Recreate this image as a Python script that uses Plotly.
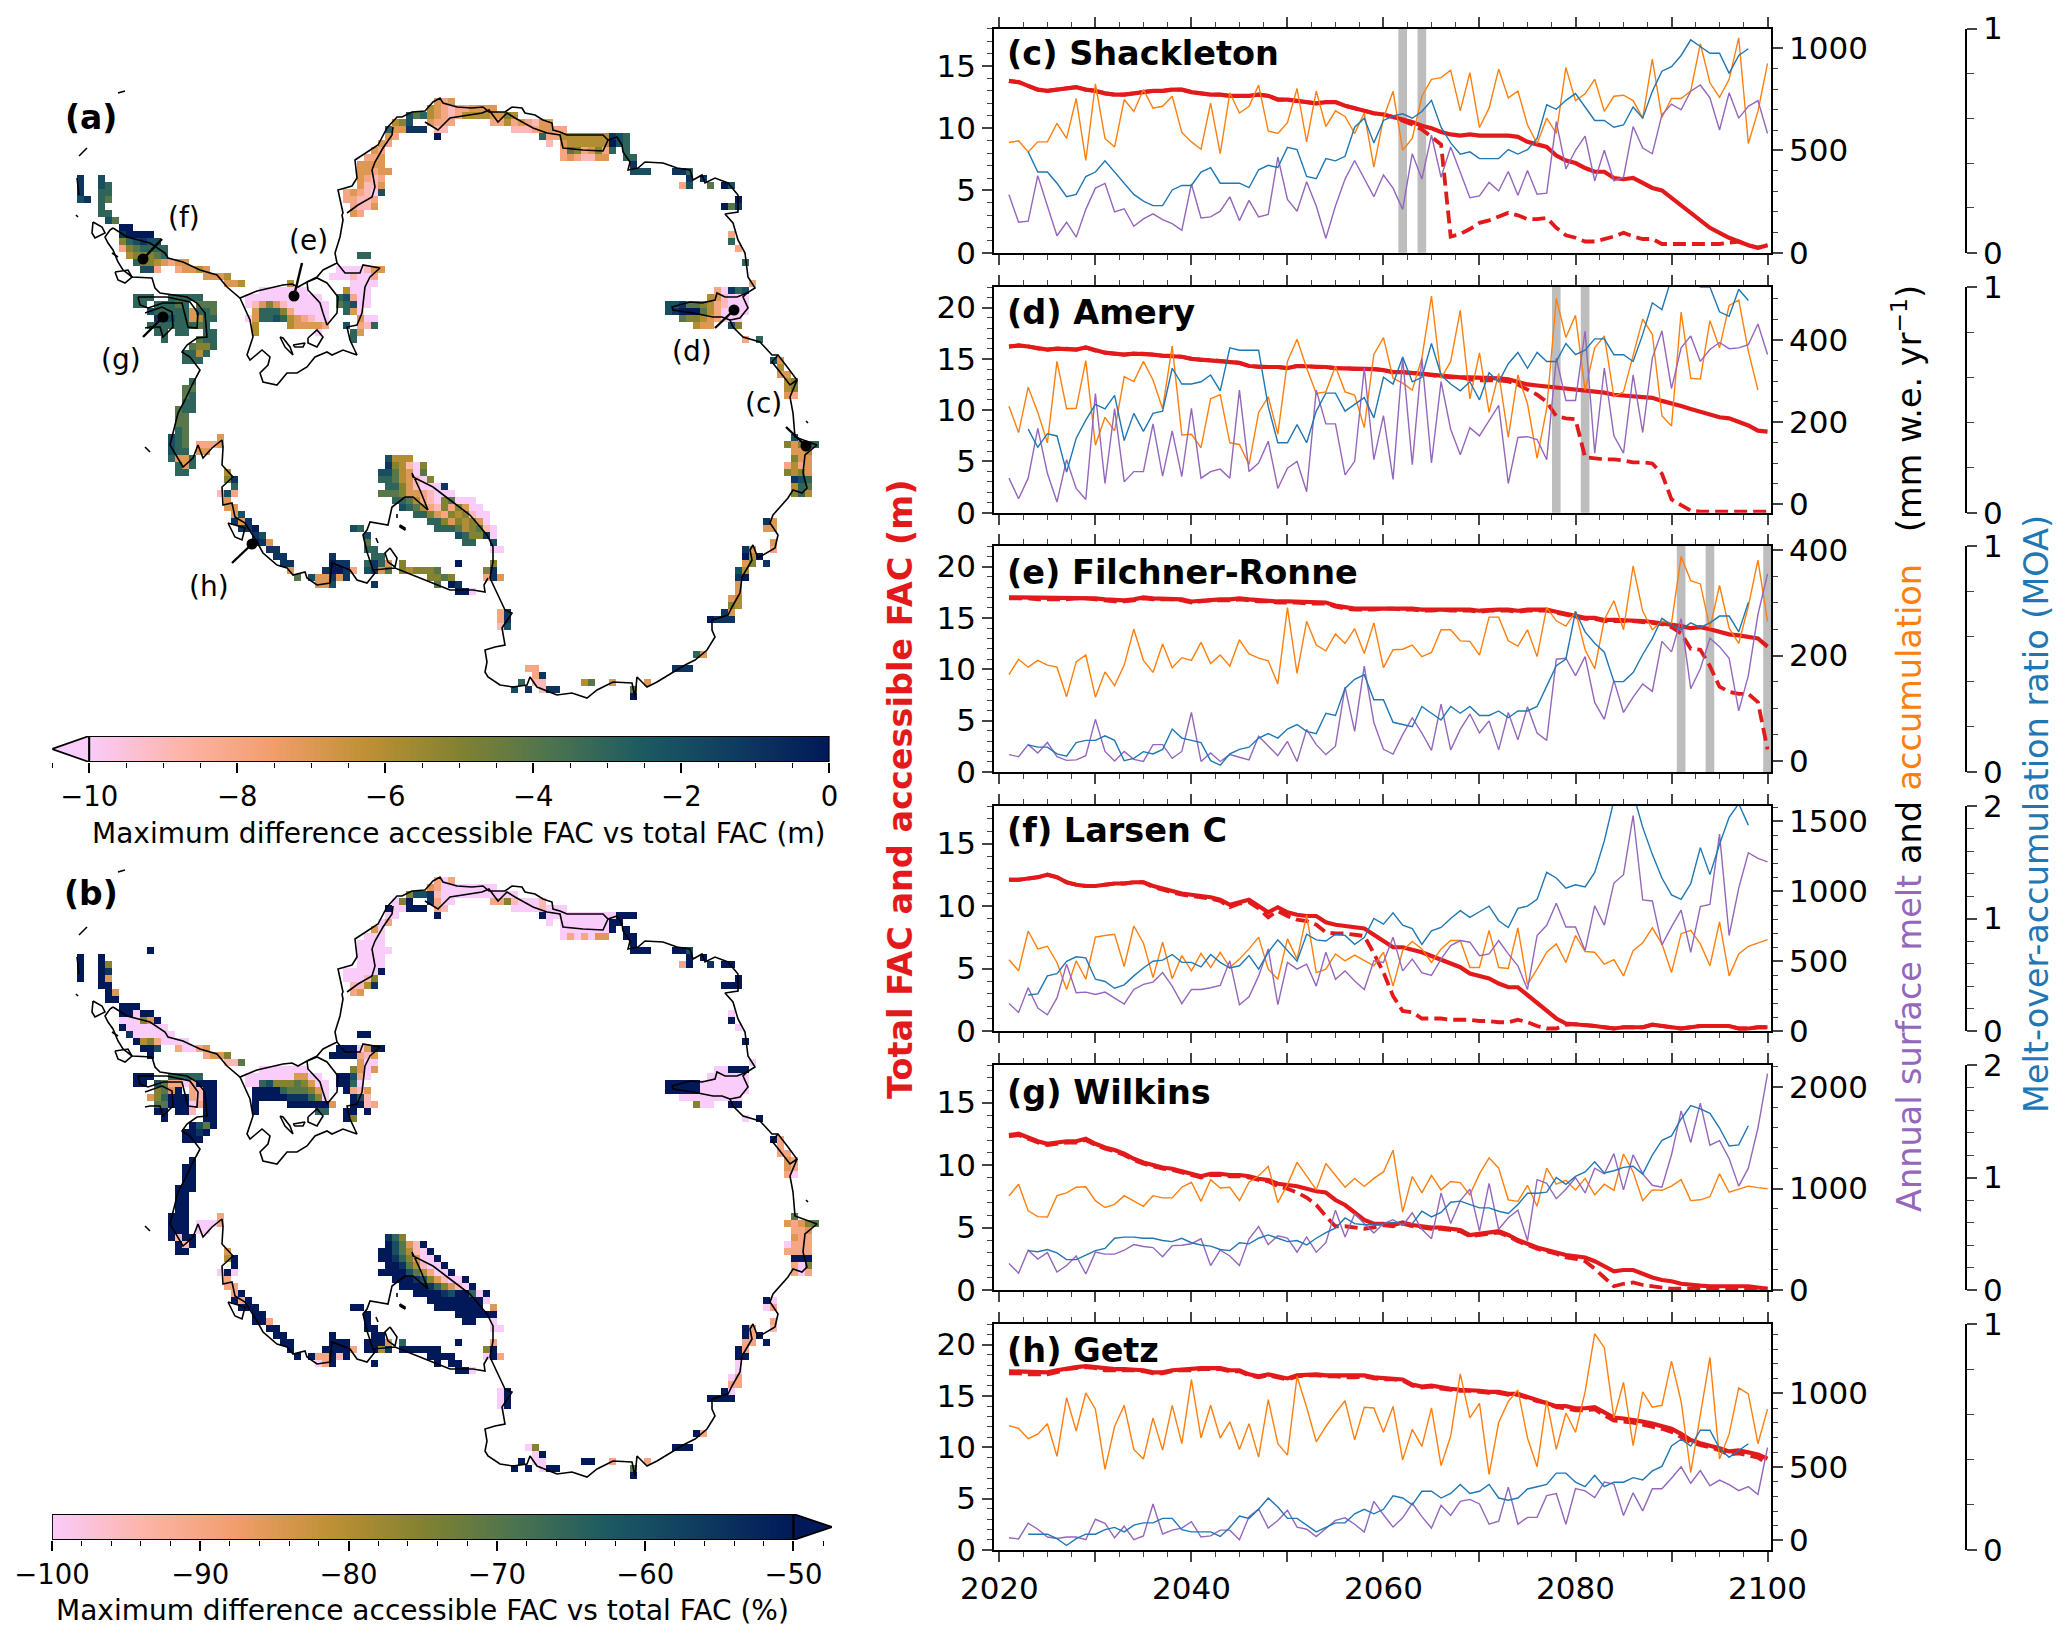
import numpy as np
import plotly.graph_objects as go

# page offset of the plot div (browser default body margin)
PAGE = 8
W, H = 2050, 1625

years = list(range(2021, 2101))
moa_years = list(range(2023, 2099))

RED = "#E31A1C"
PURPLE = "#9467BD"
ORANGE = "#FF7F0E"
BLUE = "#1F77B4"
FONT = "DejaVu Sans"

# ---- Shackleton
c_total = [13.8,13.7,13.4,13.1,13.0,13.1,13.2,13.3,13.1,13.0,
           12.8,12.7,12.7,12.8,12.9,13.0,13.0,13.1,13.1,12.9,
           12.8,12.7,12.7,12.6,12.6,12.6,12.7,12.6,12.3,12.3,
           12.2,12.1,12.0,12.1,12.1,11.8,11.6,11.4,11.2,11.1,
           10.9,10.7,10.5,10.2,10.0,9.7,9.5,9.4,9.5,9.4,
           9.4,9.4,9.4,9.3,8.9,8.7,8.5,7.8,7.4,7.2,
           6.8,6.5,6.5,6.0,5.9,6.0,5.6,5.2,5.0,4.4,
           3.8,3.2,2.7,2.0,1.6,1.2,0.9,0.6,0.4,0.6]
c_access = c_total[:40] + [10.9,10.6,10.3,9.9,9.3,8.7,1.3,1.5,1.9,2.4,
           2.6,2.9,3.2,3.0,2.7,2.7,2.8,2.0,1.4,1.2,
           0.9,0.9,1.1,1.3,1.6,1.3,1.1,1.1,0.7,0.7,
           0.7,0.7,0.7,0.7,0.7,0.8,0.9,0.6,0.4,0.6]
c_accum = [539,547,493,542,542,633,559,754,451,826,
           559,517,749,691,798,707,716,765,588,542,
           506,732,484,782,683,716,820,595,583,636,
           803,542,790,617,694,666,583,683,418,658,
           790,501,559,765,848,856,893,694,881,612,
           707,898,757,790,625,534,658,583,906,744,
           777,848,691,765,770,744,658,947,661,754,
           754,790,1022,831,760,848,1051,534,691,926]
c_melt = [283,149,154,377,228,83,149,76,212,316,
          339,200,215,129,165,190,162,142,109,336,
          170,175,203,273,157,256,175,187,468,261,
          203,347,228,71,228,360,451,360,274,380,
          316,212,484,360,575,369,517,393,269,278,
          344,302,397,281,402,286,291,641,410,501,
          570,352,501,352,369,617,512,484,674,727,
          699,790,820,757,600,782,658,716,744,583]
c_moa = [.45,.36,.36,.31,.25,.26,.34,.36,.41,.36,
         .31,.26,.23,.21,.21,.28,.30,.30,.36,.38,
         .31,.31,.31,.29,.37,.39,.38,.47,.46,.34,
         .33,.42,.41,.43,.56,.60,.49,.59,.61,.62,
         .60,.63,.68,.56,.49,.44,.45,.42,.42,.42,
         .46,.44,.46,.51,.66,.64,.68,.71,.65,.59,
         .59,.56,.57,.65,.60,.72,.81,.83,.88,.95,
         .92,.89,.89,.80,.88,.91]
c_events = [2062, 2064]

# ---- Amery
d_total = [16.2,16.3,16.2,16.0,15.9,16.0,16.0,15.9,16.1,15.8,
           15.6,15.5,15.4,15.5,15.5,15.4,15.3,15.3,15.2,15.0,
           14.9,14.9,14.8,14.7,14.6,14.3,14.2,14.2,14.2,14.1,
           14.3,14.3,14.2,14.2,14.1,14.1,14.0,14.0,14.0,13.9,
           13.7,13.7,13.6,13.6,13.4,13.3,13.2,13.2,13.2,13.2,
           13.2,13.1,13.0,12.7,12.5,12.4,12.3,12.2,12.1,12.1,
           11.9,11.8,11.7,11.5,11.4,11.3,11.2,11.2,10.9,10.7,
           10.4,10.1,9.8,9.5,9.3,9.2,8.9,8.5,8.0,7.9]
d_access = d_total[:48] + [13.0,12.9,12.9,12.9,12.8,12.5,12.0,11.5,10.8,9.4,
           9.2,9.1,5.4,5.3,5.2,5.2,5.1,4.9,4.9,4.8,
           3.8,1.3,0.8,0.2,0.1,0.1,0.1,0.1,0.1,0.1,0.1,0.1]
d_accum = [239,175,285,224,150,348,233,234,350,144,
           212,179,311,299,348,303,233,385,169,171,
           138,257,267,150,146,97,224,262,171,348,
           402,332,270,274,336,274,266,187,365,406,
           307,295,278,356,507,307,348,472,257,369,
           224,319,163,315,245,113,233,501,406,460,
           278,381,410,262,274,365,451,414,216,191,
           468,307,305,447,381,484,497,373,278,None]
d_melt = [64,14,64,185,76,6,109,39,12,270,
          51,233,55,80,80,196,69,179,68,234,
          64,80,86,64,278,80,101,154,39,88,
          105,31,278,196,196,72,105,332,109,216,
          61,356,97,356,101,299,183,121,187,167,
          204,241,51,163,165,158,109,356,253,253,
          422,125,332,167,125,315,175,356,422,282,
          381,410,348,377,394,379,381,389,439,365]
d_moa = [.37,.29,.35,.34,.18,.33,.41,.48,.46,.52,
         .32,.44,.36,.44,.45,.64,.57,.57,.58,.61,
         .54,.73,.72,.72,.72,.47,.31,.31,.39,.31,
         .45,.53,.53,.45,.48,.51,.42,.60,.57,.69,
         .58,.60,.75,.61,.57,.54,.58,.50,.62,.58,
         .66,.71,.64,.71,.67,.67,.75,.70,.72,.77,
         .77,.70,.70,.67,.79,.93,.90,1.04,1.18,1.07,
         1.00,1.00,.89,.87,.99,.94]
d_events = [2078, 2081]

# ---- Filchner-Ronne
e_total = [17.0,17.0,17.0,16.9,16.9,16.9,16.9,17.0,17.0,16.9,
           16.8,16.7,16.7,16.8,17.0,16.9,16.9,16.9,16.8,16.6,
           16.7,16.8,16.8,16.8,16.9,16.8,16.7,16.7,16.6,16.6,
           16.6,16.5,16.5,16.5,16.2,16.0,15.9,15.9,15.9,16.0,
           16.0,15.9,15.9,15.8,15.8,15.9,15.8,15.8,15.8,15.7,
           15.8,15.8,15.8,15.7,15.8,15.8,15.8,15.6,15.4,15.2,
           15.0,15.0,14.8,14.8,14.8,14.8,14.7,14.6,14.5,14.3,
           14.2,14.0,14.1,13.9,13.6,13.4,13.3,13.2,13.0,12.2]
e_access = [16.9,16.9,16.9,16.8,16.8,16.8,16.8,16.9,16.9,16.8,
            16.7,16.6,16.6,16.7,16.9,16.8,16.8,16.8,16.7,16.5,
            16.6,16.7,16.7,16.7,16.8,16.7,16.6,16.6,16.5,16.5,
            16.5,16.4,16.4,16.4,16.1,15.9,15.8,15.8,15.8,15.9,
            15.9,15.8,15.8,15.7,15.7,15.8,15.7,15.7,15.7,15.6,
            15.7,15.7,15.7,15.6,15.7,15.7,15.7,15.5,15.3,15.1,
            14.9,14.9,14.7,14.7,14.7,14.7,14.6,14.5,14.4,14.1,
            13.5,12.0,11.9,10.3,8.3,7.8,7.6,7.6,6.8,2.2]
e_accum = [164,193,178,191,182,178,122,188,201,121,
           169,143,182,250,191,168,222,177,196,191,
           225,185,201,180,230,203,195,190,146,291,
           166,265,220,209,241,223,251,204,262,177,
           211,212,220,198,206,249,249,228,227,201,
           273,273,228,218,249,198,291,266,256,284,
           211,175,268,304,249,370,284,249,265,262,
           388,342,336,252,333,252,223,294,381,265]
e_melt = [12,8,31,15,35,8,1,2,10,79,
          18,0,18,3,-1,31,31,5,18,92,
          -1,15,-1,12,7,2,47,28,10,37,
          -1,60,31,12,28,140,56,180,73,22,
          13,50,82,53,20,108,21,60,89,53,
          76,21,92,40,103,53,39,193,195,162,
          198,111,79,153,92,121,146,132,227,207,
          270,137,175,233,217,195,95,162,278,355]
e_moa = [.12,.11,.11,.08,.07,.13,.14,.14,.16,.14,
         .05,.06,.09,.08,.10,.19,.15,.14,.13,.05,
         .03,.08,.10,.11,.15,.17,.15,.19,.21,.18,
         .17,.26,.25,.37,.41,.43,.32,.32,.22,.21,
         .20,.29,.26,.23,.29,.26,.29,.25,.25,.27,
         .24,.27,.27,.29,.38,.47,.50,.71,.62,.57,
         .53,.40,.40,.44,.52,.59,.68,.65,.63,.66,
         .64,.66,.69,.69,.62,.75]
e_events = [2091, 2094, 2100]

# ---- Larsen C
f_total = [12.1,12.1,12.2,12.3,12.5,12.3,11.9,11.7,11.6,11.6,
           11.7,11.8,11.8,11.9,11.9,11.6,11.4,11.2,11.0,10.9,
           10.8,10.7,10.5,10.1,10.3,10.5,10.0,9.5,9.9,9.5,
           9.3,9.2,9.2,8.7,8.5,8.4,8.3,8.2,7.7,7.2,
           6.7,6.7,6.5,6.3,6.0,5.7,5.4,5.1,4.6,4.4,
           4.2,3.8,3.5,3.5,2.9,2.3,1.7,1.0,.6,.55,
           .5,.4,.3,.2,.3,.3,.3,.5,.4,.3,
           .2,.3,.4,.4,.4,.4,.2,.2,.3,.3]
f_access = [12.1,12.1,12.2,12.3,12.5,12.3,11.9,11.7,11.6,11.6,
            11.7,11.8,11.8,11.9,11.9,11.5,11.3,11.1,10.9,10.8,
            10.7,10.6,10.4,9.9,10.2,10.3,9.8,9.1,9.6,9.2,
            8.9,8.8,8.5,7.9,7.8,7.8,7.7,7.6,6.2,4.7,
            2.8,1.6,1.5,1.0,1.0,1.0,.9,.9,.9,.8,
            .8,.7,.7,.9,.7,.4,.2,.2,.5,.55,
            .5,.4,.3,.2,.3,.3,.3,.5,.4,.3,
            .2,.3,.4,.4,.4,.4,.2,.2,.3,.3]
f_accum = [510,430,715,587,606,490,297,502,370,671,
           683,691,461,751,630,382,635,374,539,430,
           555,454,563,454,514,587,671,442,370,659,
           514,828,418,442,551,502,543,502,466,563,
           321,575,640,587,490,587,647,647,454,454,
           720,454,447,737,333,442,563,623,490,683,
           568,563,478,510,394,575,630,737,623,418,
           696,720,623,466,780,394,551,606,630,654]
f_melt = [196,133,309,164,116,237,478,273,278,261,
          278,237,193,297,333,350,418,321,196,297,
          297,309,326,502,188,244,394,587,188,490,
          442,478,321,563,370,430,357,297,502,490,
          671,430,514,418,398,514,611,647,635,539,
          551,647,551,466,297,683,756,913,744,744,
          575,896,756,1058,1118,1541,937,930,616,744,
          865,563,889,906,1408,683,1022,1275,1234,1210]
f_moa = [.32,.33,.49,.51,.62,.66,.65,.46,.44,.38,
         .41,.49,.56,.62,.63,.68,.61,.61,.57,.68,
         .61,.56,.58,.67,.55,.70,.81,.71,.62,.86,
         .81,.80,.86,.85,.77,.83,1.00,.95,1.05,.94,
         .91,.77,.89,.92,1.00,1.07,1.01,1.06,1.11,.98,
         .92,1.09,1.11,1.17,1.41,1.36,1.27,1.30,1.28,1.41,
         1.69,2.05,2.08,2.11,1.81,1.57,1.36,1.21,1.17,1.31,
         1.63,1.39,1.66,1.90,2.02,1.83]

# ---- Wilkins
g_total = [12.4,12.5,12.2,11.9,11.7,11.8,11.9,11.9,12.1,11.7,
           11.4,11.2,10.9,10.5,10.2,10.0,9.8,9.7,9.5,9.3,
           9.1,9.3,9.3,9.2,9.2,9.1,8.9,8.8,8.5,8.4,
           8.3,8.1,7.9,7.8,7.2,6.8,6.2,5.6,5.3,5.3,
           5.2,5.4,5.2,5.1,5.0,5.0,4.9,4.8,4.4,4.5,
           4.6,4.7,4.4,4.0,3.7,3.4,3.2,3.0,2.8,2.7,
           2.6,2.3,1.9,1.5,1.6,1.6,1.3,1.0,.8,.7,
           .5,.4,.35,.3,.3,.3,.35,.3,.2,.1]
g_access = [12.3,12.4,12.1,11.8,11.6,11.7,11.8,11.8,12.0,11.6,
            11.3,11.1,10.8,10.4,10.1,9.9,9.7,9.6,9.4,9.2,
            9.0,9.2,9.2,9.1,9.1,9.0,8.8,8.7,8.3,8.1,
            7.8,7.4,6.8,5.9,5.1,5.1,5.0,4.9,5.0,5.2,
            5.1,5.3,5.1,5.0,4.9,4.9,4.8,4.7,4.3,4.4,
            4.5,4.6,4.3,3.9,3.6,3.3,3.1,2.9,2.6,2.5,
            2.3,1.7,1.0,.3,.5,.6,.4,.3,.2,.1,
            .1,.1,.1,.1,.1,.1,.1,.1,.1,.1]
g_accum = [926,1043,780,723,719,930,957,1013,1017,881,
           813,844,930,881,825,930,908,908,1013,1062,
           874,1088,1006,1013,881,1062,1126,1220,862,1039,
           1258,1126,987,1247,1134,1013,1100,1021,1100,1164,
           1378,768,1119,957,1130,987,1070,1058,938,1145,
           1303,1201,889,874,1032,825,1201,1043,1081,987,
           1100,938,1043,983,1341,1164,881,987,983,1024,
           1088,881,889,919,1145,964,994,1024,1009,998]
g_melt = [260,166,392,305,369,177,241,335,158,373,
          354,354,392,448,429,418,328,437,441,456,
          505,241,392,335,241,505,625,448,535,512,
          373,523,373,467,787,523,749,655,561,655,
          693,636,761,599,505,957,655,881,994,580,
          1051,599,712,787,486,1088,1051,900,994,1107,
          957,1201,1145,1344,987,1333,1145,1032,1013,1333,
          1766,1454,1842,1427,1473,1296,1024,1201,1597,2132]
g_moa = [.35,.34,.36,.33,.27,.27,.31,.35,.37,.46,
         .47,.47,.46,.46,.44,.43,.46,.42,.40,.39,
         .36,.35,.42,.41,.46,.49,.46,.43,.44,.40,
         .46,.51,.55,.64,.59,.58,.58,.59,.60,.59,
         .59,.70,.65,.69,.78,.79,.76,.73,.73,.70,
         .68,.76,.86,.86,.87,1.00,.94,1.01,1.05,1.14,
         1.04,1.06,1.09,1.10,1.03,1.20,1.33,1.37,1.52,1.64,
         1.61,1.57,1.44,1.28,1.29,1.46]

# ---- Getz
h_total = [17.4,17.4,17.3,17.3,17.3,17.5,17.7,17.8,17.9,17.8,
           17.6,17.6,17.6,17.6,17.5,17.3,17.3,17.5,17.6,17.6,
           17.7,17.7,17.7,17.5,17.5,17.1,16.9,17.1,16.9,16.7,
           17.0,17.1,17.1,17.0,17.0,16.9,16.9,17.0,16.8,16.7,
           16.7,16.6,16.1,15.9,16.0,15.8,15.7,15.6,15.6,15.5,
           15.4,15.4,15.2,15.2,14.9,14.6,14.4,14.0,14.0,13.8,
           13.8,13.9,13.4,12.9,12.8,12.7,12.5,12.3,12.1,11.8,
           11.3,10.7,10.4,10.2,9.9,9.6,9.7,9.5,9.3,8.9]
h_access = [17.2,17.2,17.1,17.1,17.1,17.3,17.6,17.7,17.8,17.7,
            17.5,17.5,17.5,17.5,17.4,17.2,17.2,17.4,17.5,17.5,
            17.6,17.6,17.6,17.4,17.4,17.0,16.8,17.0,16.8,16.6,
            16.9,17.0,17.0,16.9,16.9,16.8,16.8,16.9,16.7,16.6,
            16.6,16.5,16.0,15.8,15.9,15.7,15.6,15.5,15.5,15.4,
            15.3,15.3,15.1,15.1,14.8,14.5,14.3,13.9,13.8,13.6,
            13.6,13.7,13.1,12.6,12.5,12.4,12.2,12.0,11.8,11.5,
            11.0,10.5,10.2,10.0,9.7,9.3,9.4,9.2,9.0,8.4]
h_accum = [781,762,692,723,794,572,971,744,1003,893,
           483,775,919,619,554,833,614,919,658,1094,
           697,919,697,807,619,794,567,958,658,580,
           1115,906,671,775,867,950,684,906,901,736,
           911,548,755,640,901,509,710,1133,833,932,
           449,802,945,1024,697,501,953,619,867,736,
           1010,1407,1311,833,1076,645,1010,906,919,1219,
           945,462,854,1245,554,723,1037,997,658,893]
h_melt = [18,10,117,76,23,13,23,23,5,144,
          117,18,97,5,31,248,44,70,84,128,
          23,31,70,70,5,162,214,84,136,206,
          91,76,26,84,136,154,110,57,266,175,
          91,154,253,162,84,240,170,266,279,248,
          110,131,363,110,157,157,305,319,110,352,
          337,292,397,384,170,324,201,352,352,423,
          501,389,475,371,410,379,339,366,313,632]
h_moa = [.07,.07,.07,.05,.02,.05,.07,.07,.09,.10,
         .08,.11,.12,.12,.14,.14,.09,.08,.08,.08,
         .06,.10,.15,.14,.18,.23,.19,.14,.14,.11,
         .08,.10,.12,.12,.16,.18,.16,.18,.24,.23,
         .20,.26,.26,.23,.25,.29,.25,.26,.29,.23,
         .22,.23,.27,.28,.29,.34,.34,.30,.28,.33,
         .28,.30,.30,.32,.31,.35,.37,.46,.49,.46,
         .53,.53,.45,.41,.44,.47]

panels = [
    dict(title="(c) Shackleton", total=c_total, access=c_access, accum=c_accum, melt=c_melt, moa=c_moa,
         events=c_events, top=28.6, bottom=252.7, left_max=18, right=[0, 1096], rmajor=500, rminor=100, moa_max=1, title_y=54),
    dict(title="(d) Amery", total=d_total, access=d_access, accum=d_accum, melt=d_melt, moa=d_moa,
         events=d_events, top=287, bottom=512.7, left_max=22, right=[-20, 529], rmajor=200, rminor=50, moa_max=1, title_y=312),
    dict(title="(e) Filchner-Ronne", total=e_total, access=e_access, accum=e_accum, melt=e_melt, moa=e_moa,
         events=e_events, top=546, bottom=772, left_max=22, right=[-21, 408], rmajor=200, rminor=50, moa_max=1, title_y=572),
    dict(title="(f) Larsen C", total=f_total, access=f_access, accum=f_accum, melt=f_melt, moa=f_moa,
         events=[], top=806, bottom=1031, left_max=18, right=[0, 1609], rmajor=500, rminor=100, moa_max=2, title_y=831),
    dict(title="(g) Wilkins", total=g_total, access=g_access, accum=g_accum, melt=g_melt, moa=g_moa,
         events=[], top=1065, bottom=1290, left_max=18, right=[0, 2218], rmajor=1000, rminor=200, moa_max=2, title_y=1092),
    dict(title="(h) Getz", total=h_total, access=h_access, accum=h_accum, melt=h_melt, moa=h_moa,
         events=[], top=1324, bottom=1550, left_max=22, right=[-65, 1472], rmajor=500, rminor=100, moa_max=1, title_y=1350),
]

# ---- map: coast and shelf outlines, page pixels of panel (a)
coast_main = [(113,228),(127,237),(150,243),(165,253),(168,258),(183,262),(200,270),(217,275),(227,287),(240,298),
    (257,291),(283,285),(292,284),(298,287),(307,282),(317,277),(323,270),(337,263),(335,253),(340,237),(343,220),(342,215),
    (343,213),(338,190),(352,186),(357,178),(355,160),(368,152),(378,145),(387,128),(397,117),(402,117),(412,112),(425,111),
    (433,102),(440,98),(443,103),(457,107),(472,108),(483,107),(489,112),(505,112),(512,107),(522,108),(525,113),(535,115),
    (543,120),(552,123),(553,130),(560,132),(567,135),(575,135),(590,135),(603,135),(608,140),(617,137),(622,145),(623,152),
    (630,162),(628,170),(638,168),(645,162),(663,163),(677,168),(690,170),(693,180),(702,175),(705,183),(715,178),(728,183),
    (738,195),(738,212),(725,214),(733,223),(738,240),(745,253),(748,277),(755,288),(747,293),(743,297),(748,308),(740,318),
    (730,320),(733,327),(743,337),(760,342),(772,355),(778,355),(788,368),(797,380),(790,397),(793,413),(795,437),(817,445),
    (805,455),(803,473),(807,488),(802,493),(793,490),(788,498),(773,515),(770,523),(778,535),(775,548),(758,558),(753,545),
    (750,550),(752,560),(742,577),(740,593),(732,607),(728,615),(712,620),(712,630),(715,637),(707,650),(695,660),(685,665),
    (657,682),(647,687),(637,677),(635,697),(632,683),(613,682),(597,690),(587,698),(572,693),(557,695),(537,687),(530,677),
    (527,685),(513,687),(500,685),(488,677),(485,672),(487,662),(485,650),(495,647),(505,645),(502,628),(512,613),(505,610),
    (497,593),(490,578),(493,562),(493,547),(487,535),(470,515),(450,500),(433,487),(413,477),(412,473),(420,490),(428,510),
    (413,497),(405,497),(392,507),(388,525),(370,522),(367,530),(363,535),(367,552),(373,570),(395,568),(430,582),(450,590),
    (473,590),(485,592),(484,585),(488,578)]
coast_west = [(373,570),(375,573),(367,583),(357,580),(350,570),(343,567),(332,563),(330,583),(317,585),(307,578),(305,572),
    (293,575),(287,568),(277,565),(263,553),(257,542),(245,523),(235,517),(232,503),(223,505),(222,487),(233,477),(222,465),
    (223,448),(222,440),(212,448),(203,458),(198,445),(193,458),(183,467),(170,445),(178,413),(185,400),(192,385),(198,373),
    (200,370),(190,357),(182,352),(187,345),(197,338),(207,337),(205,313),(197,303),(187,297),(160,293),(155,288),(152,278),
    (138,277),(132,277),(123,270),(118,262),(113,250),(108,243),(105,237),(110,230),(113,228)]
ronne_grounding = [(240,298),(250,320),(253,337),(247,355),(250,360),(262,350),(270,357),(268,365),(260,373),(263,382),(277,385),
    (287,373),(297,373),(307,367),(315,357),(327,352),(332,355),(343,350),(357,355),(350,340),(347,327),(357,325),(362,313),
    (365,287),(370,277),(380,268),(363,265),(360,273),(345,273),(337,263)]
berkner = [(307,282),(317,278),(327,283),(338,297),(337,313),(327,325),(323,313),(320,303),(308,290),(307,282)]
ronne_islands = [[(280,337),(285,347),(293,355),(290,347),(283,338),(280,337)],
    [(293,345),(305,343),(303,347),(295,347),(293,345)],
    [(308,338),(317,330),(323,337),(317,347),(308,343),(308,338)]]
dml_grounding = [(347,213),(358,205),(372,197),(375,187),(372,170),(375,162),(383,148),(392,135),(393,127)]
dml_grounding_2 = [(425,122),(438,130),(450,118),(482,113),(489,110),(498,122),(507,113),(515,118),(533,128),(547,133),(560,135),
    (563,148),(583,150),(603,151),(608,140)]
amery_shelf = [(730,320),(722,317),(713,317),(693,313),(673,310),(672,307),(690,302),(702,303),(715,300),(717,293),(725,297),(737,297),(747,293)]
roosevelt = [(390,548),(397,558),(395,567),(388,562),(385,553),(390,548)]
ross_bits = [[(400,525),(405,528),(405,530),(400,527),(400,525)], [(397,514),(397,518)], [(376,538),(378,543)]]
lambert_loop = [(778,355),(772,362),(780,372),(790,385),(797,380)]
peninsula_loops = [[(93,222),(102,227),(105,233),(95,238),(92,233),(93,222)],
    [(115,272),(128,270),(132,277),(125,283),(118,280),(115,272)],
    [(138,297),(167,297),(190,302),(198,313),(197,328),(188,327),(182,303),(163,303),(148,308),(140,305),(138,297)],
    [(145,313),(153,310),(162,307),(172,312),(173,327),(163,337),(160,327),(150,327),(145,328)]]
small_isles = [[(118,93),(125,91)], [(79,156),(87,148)], [(77,178),(79,195)], [(76,215),(78,217)], [(806,421),(808,423)], [(145,447),(150,452)], [(112,253),(118,257)]]
getz_loop = [(228,523),(235,537),(242,540),(245,528),(228,523)]

label_text = ["(c)", "(d)", "(e)", "(f)", "(g)", "(h)"]
label_x = [763, 692, 308, 184, 121, 209]
label_y = [403, 351, 240, 217, 359, 586]
site_x = [806, 734, 294, 143, 163, 252]
site_y = [446, 310, 296, 259, 317, 544]
leader_x = [786, 715, 302, 162, 143, 232]
leader_y = [427, 328, 263, 239, 337, 563]

# ---- map cells as (row, first column, digits); 7 px grid; digit 0..9,a = dark..pink
CELL = 7
cells_a = [
    # Ronne
    (40,41,"6"),(41,37,"aaaaaaa"),(42,35,"aaaaaaaaaaa"),(43,35,"a97579aaaaaa"),(44,36,"733358aaaaa"),(45,35,"a733236789aa"),
    (46,36,"6"),(46,41,"677778"),(47,36,"6"),(47,45,"a"),
    # Larsen and north peninsula
    (32,17,"00"),(33,17,"10000"),(34,17,"532122"),(35,17,"8543333"),(36,18,"655543"),(37,19,"35567877"),(38,20,"228"),(38,25,"87767"),
    (39,29,"7776"),(40,32,"776"),(25,14,"2"),(26,14,"23"),(27,14,"33"),(28,14,"34"),(29,14,"3"),(30,14,"33"),(31,15,"24"),
    (25,11,"1"),(26,11,"1"),(27,11,"1"),(28,11,"2"),(28,12,"1"),
    # Wilkins, George VI
    (42,19,"333"),(42,24,"33333"),(43,19,"33"),(43,22,"33343"),(43,28,"444"),(44,21,"233333"),(44,27,"7334"),(45,22,"1123"),(45,26,"37633"),
    (46,21,"333"),(46,24,"3333"),(46,28,"43"),(47,22,"33"),(47,25,"33"),(47,29,"33"),(48,23,"3"),(48,28,"433"),(49,27,"4553"),(50,26,"3363"),(51,26,"333"),
    # Abbot and coast to Getz
    (54,27,"3"),(55,26,"44"),(56,26,"43"),(57,26,"33"),(58,25,"433"),(59,25,"44"),(60,25,"44"),(61,25,"34"),(62,24,"234"),(62,31,"7"),(63,24,"23"),(63,26,"4"),(63,28,"88"),(63,30,"87"),
    (64,24,"233"),(64,28,"77"),(65,24,"3773"),(66,25,"373"),(67,25,"33"),(67,32,"6"),(68,32,"51"),(69,33,"3"),(70,31,"928"),(71,32,"7"),(72,32,"77"),(73,33,"72"),(74,33,"171"),
    (75,34,"110"),(76,36,"12"),(77,36,"017"),(78,38,"11"),(79,39,"11"),(80,40,"11"),(81,41,"7"),(82,42,"4"),
    (79,47,"1"),(80,47,"011"),(81,46,"10018"),(82,44,"277171"),(83,45,"772"),(83,53,"1"),
    # Transantarctic patch
    (65,55,"2666"),(66,55,"1569a5"),(67,54,"22467a4"),(68,54,"334679a5"),(69,55,"33579aaa1"),(70,54,"44457789aaa"),
    (71,56,"334689a54aaa"),(72,57,"2346895857aa"),(73,59,"335785659aa"),(74,61,"33575657a"),
    (75,62,"33346549a"),(76,65,"2355"),(76,70,"a"),(77,66,"33"),(77,70,"2"),(78,70,"aa"),(80,65,"0"),
    # Ross side strips
    (75,50,"23"),(76,52,"2"),(77,52,"4"),(78,52,"33"),(79,53,"33"),(80,52,"3137"),(80,57,"5"),(81,52,"2174"),(81,57,"565554"),(82,61,"5545"),(83,62,"4"),(83,64,"01"),(84,65,"00a"),
    # Shackleton and east coast
    (62,113,"2"),(63,112,"57533"),(64,113,"776"),(65,113,"577"),(66,112,"8687"),(67,112,"5657"),(68,113,"123"),(69,113,"634"),(70,113,"536"),
    (74,109,"17"),(75,109,"77"),(77,110,"7"),(78,110,"8"),(78,106,"17"),(79,106,"060"),(80,106,"75"),(80,109,"1"),(81,105,"26"),(82,105,"10"),(83,105,"7"),(84,105,"7"),(85,104,"76"),(86,104,"56"),
    (87,103,"17"),(88,101,"0111"),(95,96,"111"),(93,99,"37"),(98,90,"4"),(99,90,"0"),(97,83,"64"),(98,78,"11"),(98,75,"1"),(97,87,"7"),(97,92,"7"),
    (95,75,"88"),(96,76,"81"),(97,76,"99"),(98,77,"9"),(98,73,"2"),(97,74,"3"),(87,71,"81"),(88,71,"81"),(89,71,"92"),(81,69,"51"),(82,69,"817"),(80,70,"5"),(76,69,"1"),
    # Amery
    (41,102,"8a132"),(42,101,"679aaa"),(43,95,"221445689aaa"),(44,95,"21000468aaaa"),(45,97,"455678aaa"),(46,99,"677"),(46,104,"25"),
    # Dronning Maud Land
    (20,54,"78"),(21,53,"78"),(22,52,"887"),(23,51,"7777"),(24,51,"77877"),(25,51,"7898"),(26,51,"7997"),(27,49,"8789a2"),(28,49,"88998"),(29,50,"8997"),(30,50,"78"),
    (17,56,"652"),(18,55,"377"),(19,55,"78"),(14,62,"787"),(15,61,"6789887777"),(16,58,"2436789866667756"),(17,61,"7888"),(17,70,"886878977"),(18,58,"111"),(18,57,"7"),(18,62,"99"),
    (18,73,"99987788"),(19,62,"0"),(19,77,"3886666666123"),(20,78,"9"),(20,80,"7666666023"),(21,80,"84587583"),(21,89,"3"),(22,80,"8789977"),(22,89,"33"),
    (23,90,"1"),(24,90,"222"),(24,96,"113"),(25,98,"1"),(26,97,"82"),(25,100,"1"),(26,101,"4"),(26,103,"0"),(26,104,"2"),(28,105,"0"),(29,105,"1"),(29,103,"04"),(33,104,"8"),(34,104,"3"),
    (35,105,"8"),(37,106,"3"),(40,107,"8"),(46,105,"5"),(48,106,"8"),(48,108,"3"),(51,110,"27"),(52,111,"6"),(53,111,"77"),(54,112,"65"),(55,112,"65"),(56,112,"78"),
    # Filchner side
    (36,51,"33"),(38,48,"aaaa977"),(39,47,"aaa9aa8"),(40,50,"aaaa"),(41,49,"6aaa"),(42,48,"328aa"),(43,48,"432aa"),(44,49,"37a"),(45,51,"7aa"),(46,49,"2"),(46,51,"893"),(47,50,"37"),(48,50,"3"),
]
cells_b = [
    (41,37,"aaaaaaa"),(42,35,"aaaaaaa77aa"),(43,35,"aa32555457aa"),(44,36,"0000344457a"),(45,36,"0000011135a"),(46,36,"0"),(46,41,"0000007"),(47,36,"0"),(47,45,"33"),
    (32,17,"000"),(33,17,"00a00"),(34,17,"aaa570"),(35,17,"0aaaaaa"),(36,18,"1aaaaaa"),(37,19,"0658aaaa"),(38,20,"002"),(38,25,"8aa87"),(39,21,"0"),(39,29,"8775"),(40,32,"994"),
    (25,11,"0"),(26,11,"0"),(27,11,"0"),(28,11,"0"),(24,21,"0"),(25,14,"0"),(26,14,"05"),(27,14,"01"),(28,14,"07"),(29,14,"00"),(30,15,"07"),(31,15,"00"),
    (42,19,"000"),(42,24,"33333"),(43,19,"00"),(43,22,"2488a8000"),(44,22,"547"),(44,25,"0"),(44,27,"8900"),(45,21,"753"),(45,24,"00"),(45,26,"08900"),
    (46,22,"44000a800"),(47,22,"00"),(47,25,"009"),(47,29,"00"),(48,23,"0"),(48,29,"00"),(49,27,"0240"),(50,26,"0010"),(51,26,"000"),
    (54,27,"0"),(55,26,"00"),(56,26,"00"),(57,26,"00"),(58,25,"000"),(59,25,"00"),(60,25,"00"),(61,25,"00"),(62,24,"000"),(62,31,"8"),(63,24,"00"),(63,26,"0"),(63,28,"aa"),(63,30,"a8"),
    (64,24,"000"),(64,28,"aa"),(65,24,"0900"),(66,25,"090"),(67,25,"00"),(67,32,"7"),(68,32,"60"),(69,33,"0"),(70,31,"a0a"),(71,32,"8"),(72,32,"88"),(73,33,"80"),(74,33,"080"),
    (75,34,"000"),(76,36,"00"),(77,36,"008"),(78,38,"00"),(79,39,"00"),(80,40,"00"),(81,41,"0"),(82,42,"0"),
    (79,47,"0"),(80,47,"000"),(81,46,"00008"),(82,44,"088090"),(83,45,"a80"),(83,53,"0"),
    (65,55,"135"),(66,55,"024790"),(67,54,"002469a0"),(68,54,"001357aa0"),(69,55,"001469aa0"),(70,54,"00002468aa0"),
    (71,56,"00012579aa0"),(72,57,"000013579a0"),(73,59,"000012003a0"),(74,61,"00000000a"),(75,62,"0000000"),(75,70,"7"),(76,65,"0000"),(76,70,"0"),(77,66,"00"),(77,70,"a"),(78,70,"aa"),(80,65,"0"),
    (75,50,"00"),(76,52,"0"),(77,52,"0"),(78,52,"00"),(79,53,"00"),(80,52,"0007"),(80,57,"3"),(81,52,"0061"),(81,57,"000000"),(82,61,"0000"),(83,62,"0"),(83,64,"00"),(84,65,"00a"),
    (62,113,"4"),(63,112,"78754"),(64,113,"887"),(65,113,"788"),(66,112,"a888"),(67,112,"8888"),(68,113,"000"),(69,113,"8a5"),(70,113,"8a8"),
    (74,109,"0a"),(75,109,"a8"),(77,110,"8"),(78,110,"9"),(78,106,"08"),(79,106,"080"),(80,106,"88"),(80,109,"0"),(81,105,"08"),(82,105,"00"),(83,105,"a"),(84,105,"a"),(85,104,"a8"),(86,104,"88"),
    (87,103,"0a"),(88,101,"0000"),(95,96,"000"),(93,99,"08"),(98,90,"4"),(99,90,"0"),(97,83,"00"),(98,78,"00"),(98,75,"0"),(97,87,"8"),(97,92,"8"),
    (95,75,"a5"),(96,76,"a0"),(97,76,"aa"),(98,77,"a"),(98,73,"0"),(97,74,"0"),(87,71,"a0"),(88,71,"a0"),(89,71,"a0"),(81,69,"50"),(82,69,"a08"),(80,70,"8"),(76,69,"0"),
    (41,102,"aa000"),(42,101,"aaaaaa"),(43,95,"00000aaaaaaa"),(44,95,"00000aaaaaaa"),(45,97,"aaaaaaaaa"),(46,99,"5aa"),(46,104,"00"),
    (20,54,"a8"),(21,53,"7a"),(22,52,"aaa"),(23,51,"aaaa"),(24,51,"aaaaa"),(25,51,"aaaa"),(26,51,"aaaa"),(27,49,"aaaaa0"),(28,49,"aaa95"),(29,50,"9961"),(30,50,"87"),
    (17,56,"a50"),(18,55,"0a9"),(19,55,"aa"),(14,62,"8a8"),(15,61,"78aaaaaaaa"),(16,58,"52219aaaaaaaaaaa"),(17,61,"18aa"),(17,70,"8859aaa9"),(18,58,"000"),(18,57,"a"),(18,62,"89"),
    (18,73,"aaaa9aaa"),(19,62,"0"),(19,77,"0aaaaaaaaaa000"),(20,78,"a"),(20,80,"aaaaaaa00"),(21,80,"aaaaaaa0"),(21,89,"0"),(22,80,"a8a8a77"),(22,89,"00"),
    (23,90,"0"),(24,90,"000"),(24,96,"002"),(25,98,"0"),(26,97,"80"),(25,100,"0"),(26,101,"1"),(26,103,"0"),(26,104,"0"),(28,105,"0"),(29,105,"0"),(29,103,"00"),(33,104,"a"),(34,104,"0"),
    (35,105,"a"),(37,106,"0"),(40,107,"a"),(46,105,"0"),(48,106,"a"),(48,108,"0"),(51,110,"08"),(52,111,"8"),(53,111,"88"),(54,112,"78"),(55,112,"78"),(56,112,"8a"),
    (36,51,"00"),(38,48,"000a700"),(39,47,"0000897"),(40,51,"7aa"),(41,50,"57a7"),(42,48,"0028a"),(43,48,"003a"),(44,49,"0897"),(45,50,"029"),(46,50,"0098"),(47,49,"00"),(47,52,"0"),(48,49,"05"),
]

batlow_r = [[0, "#FACCFA"], [0.125, "#FDB4A8"], [0.25, "#F19D6B"], [0.375, "#BE9035"], [0.5, "#828231"],
            [0.625, "#4C7350"], [0.75, "#1C5A62"], [0.875, "#0F3B5F"], [1, "#011959"]]


def xp(px):
    return (px - PAGE) / W


def yp(py):
    return 1 - (py - PAGE) / H


def aid(letter, n):
    # plotly wants x, x2, x3... and not x1
    return letter if str(n) == "1" else letter + str(n)


def grid_from_cells(cells, to_value):
    z = np.full((105, 120), np.nan)
    for row, col, digits in cells:
        for i, ch in enumerate(digits):
            z[row, col + i] = to_value(10 if ch == "a" else int(ch))
    return z


def path(points):
    return [p[0] for p in points], [p[1] for p in points]


fig = go.Figure()
layout = {}
annotations = []
shapes = []

PANEL_L, PANEL_R = 994, 1771
MOA_X = 1966
TICK = 31
for i, p in enumerate(panels):
    ax = aid("x", i + 1)
    yl, yr, ym = aid("y", 3 * i + 1), aid("y", 3 * i + 2), aid("y", 3 * i + 3)
    dom_y = [yp(p["bottom"]), yp(p["top"])]
    layout["xaxis" + str(i + 1)] = dict(
        domain=[xp(PANEL_L), xp(PANEL_R)], range=[2019.44, 2100.36], anchor=yl, automargin=False,
        tickmode="array", tickvals=list(range(2020, 2101, 10)),
        ticktext=[str(t) if t % 20 == 0 else " " for t in range(2020, 2101, 10)],
        showticklabels=(i == 5), ticks="outside", ticklen=10, tickwidth=1.6, showline=True, linecolor="black",
        linewidth=1.8, mirror="ticks", showgrid=False, zeroline=False,
        minor=dict(tickmode="linear", tick0=2020, dtick=2.5, ticks="outside", ticklen=5, tickwidth=1.4, showgrid=False),
        tickfont=dict(size=TICK, family=FONT, color="black"))
    layout["yaxis" + str(3 * i + 1)] = dict(
        domain=dom_y, range=[0, p["left_max"]], anchor=ax, automargin=False, tickmode="linear", tick0=0, dtick=5,
        ticks="outside", ticklen=10, tickwidth=1.6, showline=True, linecolor="black", linewidth=1.8,
        showgrid=False, zeroline=False,
        minor=dict(tickmode="linear", tick0=0, dtick=1, ticks="outside", ticklen=5, tickwidth=1.4, showgrid=False),
        tickfont=dict(size=TICK, family=FONT, color="black"))
    layout["yaxis" + str(3 * i + 2)] = dict(
        domain=dom_y, range=p["right"], anchor=ax, automargin=False, overlaying=yl, side="right", tickmode="linear", tick0=0,
        dtick=p["rmajor"], ticks="outside", ticklen=10, tickwidth=1.6, showline=True, linecolor="black", linewidth=1.8,
        showgrid=False, zeroline=False,
        minor=dict(tickmode="linear", tick0=0, dtick=p["rminor"], ticks="outside", ticklen=5, tickwidth=1.4, showgrid=False),
        tickfont=dict(size=TICK, family=FONT, color="black"))
    layout["yaxis" + str(3 * i + 3)] = dict(
        domain=dom_y, range=[0, p["moa_max"]], anchor="free", position=xp(MOA_X), automargin=False, overlaying=yl, side="right",
        tickmode="linear", tick0=0, dtick=1, ticks="outside", ticklen=10, tickwidth=1.6, showline=True,
        linecolor="black", linewidth=1.8, showgrid=False, zeroline=False,
        minor=dict(tickmode="linear", tick0=0, dtick=0.2, ticks="outside", ticklen=7, tickwidth=1.4, showgrid=False),
        tickfont=dict(size=TICK, family=FONT, color="black"))

    for yr_event in p["events"]:
        shapes.append(dict(type="rect", xref=ax, yref=yl + " domain", x0=yr_event - 0.45, x1=yr_event + 0.45,
                           y0=0, y1=1, fillcolor="#BDBDBD", line_width=0, layer="below"))

    fig.add_trace(go.Scatter(x=years, y=p["total"], mode="lines", line=dict(color=RED, width=4.2),
                             xaxis=ax, yaxis=yl, showlegend=False))
    fig.add_trace(go.Scatter(x=years, y=p["access"], mode="lines", line=dict(color=RED, width=3.8, dash="13px,6px"),
                             xaxis=ax, yaxis=yl, showlegend=False))
    fig.add_trace(go.Scatter(x=years, y=p["accum"], mode="lines", line=dict(color=ORANGE, width=1.4),
                             xaxis=ax, yaxis=yr, showlegend=False))
    fig.add_trace(go.Scatter(x=years, y=p["melt"], mode="lines", line=dict(color=PURPLE, width=1.4),
                             xaxis=ax, yaxis=yr, showlegend=False))
    fig.add_trace(go.Scatter(x=moa_years, y=p["moa"], mode="lines", line=dict(color=BLUE, width=1.4),
                             xaxis=ax, yaxis=ym, showlegend=False))
    annotations.append(dict(text="<b>" + p["title"] + "</b>", xref="paper", yref="paper", x=xp(1005), y=yp(p["title_y"]),
                            xanchor="left", yanchor="middle", showarrow=False, font=dict(size=33.5, family=FONT, color="black")))

# axis titles
annotations.append(dict(text="<b>Total FAC and accessible FAC (m)</b>", xref="paper", yref="paper", x=xp(900), y=yp(789),
                        xanchor="center", yanchor="middle", textangle=-90, showarrow=False, font=dict(size=33.5, family=FONT, color=RED)))
annotations.append(dict(
    text='<span style="color:%s">Annual surface melt</span> and <span style="color:%s">accumulation</span>   (mm w.e. yr<sup>−1</sup>)' % (PURPLE, ORANGE),
    xref="paper", yref="paper", x=xp(1907), y=yp(749), xanchor="center", yanchor="middle", textangle=-90, showarrow=False,
    font=dict(size=33.5, family=FONT, color="black")))
annotations.append(dict(text="Melt-over-accumulation ratio (MOA)", xref="paper", yref="paper", x=xp(2036), y=yp(814),
                        xanchor="center", yanchor="middle", textangle=-90, showarrow=False, font=dict(size=33.5, family=FONT, color=BLUE)))


# ---- the two maps
def add_map(xa, ya, top, cells, zmin, zmax, to_value):
    z = grid_from_cells(cells, to_value)
    layout["xaxis" + xa] = dict(domain=[xp(40), xp(860)], range=[40, 860], visible=False, anchor="y" + ya, automargin=False)
    layout["yaxis" + ya] = dict(domain=[yp(top + 660), yp(top)], range=[720, 60], visible=False, anchor="x" + xa, automargin=False)
    fig.add_trace(go.Heatmap(z=z, x=[(c + 0.5) * CELL for c in range(z.shape[1])], y=[(r + 0.5) * CELL for r in range(z.shape[0])],
                             zmin=zmin, zmax=zmax, colorscale=batlow_r, showscale=False, xaxis="x" + xa, yaxis="y" + ya, hoverongaps=False))
    outlines = [coast_main, coast_west, ronne_grounding, berkner, dml_grounding, dml_grounding_2, amery_shelf, roosevelt,
                lambert_loop, getz_loop] + ronne_islands + ross_bits + peninsula_loops + small_isles
    for line in outlines:
        lx, ly = path(line)
        fig.add_trace(go.Scatter(x=lx, y=ly, mode="lines", line=dict(color="black", width=1.6), showlegend=False,
                                 xaxis="x" + xa, yaxis="y" + ya))


add_map("7", "19", 60, cells_a, -10, 0, lambda d: -d)
add_map("8", "20", 839, cells_b, -100, -50, lambda d: -50 - 5 * d)

for lab, lx, ly, sx, sy, ex, ey in zip(label_text, label_x, label_y, site_x, site_y, leader_x, leader_y):
    annotations.append(dict(text=lab, xref="x7", yref="y19", x=lx, y=ly, xanchor="center", yanchor="middle", showarrow=False,
                            font=dict(size=28, family=FONT, color="black")))
    fig.add_trace(go.Scatter(x=[sx, ex], y=[sy, ey], mode="lines", line=dict(color="black", width=2.4), showlegend=False, xaxis="x7", yaxis="y19"))
fig.add_trace(go.Scatter(x=site_x, y=site_y, mode="markers", marker=dict(color="black", size=11), showlegend=False, xaxis="x7", yaxis="y19"))
annotations.append(dict(text="<b>(a)</b>", xref="x7", yref="y19", x=91, y=117, xanchor="center", yanchor="middle", showarrow=False,
                        font=dict(size=33, family=FONT, color="black")))
annotations.append(dict(text="<b>(b)</b>", xref="x8", yref="y20", x=91, y=114, xanchor="center", yanchor="middle", showarrow=False,
                        font=dict(size=33, family=FONT, color="black")))


# ---- colour bars
def add_bar(xa, ya, left, right, top, bottom, rng, start, stop, major, minor, tip, arrow_at, arrow_color, label, lab_x, lab_y):
    gradient = np.linspace(start, stop, 256)
    layout["xaxis" + xa] = dict(domain=[xp(left), xp(right)], range=rng, anchor="y" + ya, showgrid=False, zeroline=False,
                                showline=False, automargin=False, tickmode="linear", tick0=start, dtick=major, ticks="outside", ticklen=10,
                                tickwidth=1.6, tickcolor="black",
                                minor=dict(tickmode="linear", tick0=start, dtick=minor, ticks="outside", ticklen=5, tickwidth=1.4, showgrid=False),
                                tickfont=dict(size=27.5, family=FONT, color="black"))
    layout["yaxis" + ya] = dict(domain=[yp(bottom), yp(top)], range=[0, 1], visible=False, anchor="x" + xa, automargin=False)
    fig.add_trace(go.Heatmap(z=[gradient], x=gradient, y=[0.5], dy=1, zmin=start, zmax=stop, colorscale=batlow_r, showscale=False,
                             xaxis="x" + xa, yaxis="y" + ya))
    fig.add_trace(go.Scatter(x=[arrow_at, tip, arrow_at, arrow_at], y=[0, 0.5, 1, 0], mode="lines", fill="toself", fillcolor=arrow_color,
                             line=dict(color="black", width=1.8), showlegend=False, xaxis="x" + xa, yaxis="y" + ya, cliponaxis=False))
    fig.add_trace(go.Scatter(x=[start, stop, stop, start, start], y=[0, 0, 1, 1, 0], mode="lines", line=dict(color="black", width=1.8),
                             showlegend=False, xaxis="x" + xa, yaxis="y" + ya, cliponaxis=False))
    annotations.append(dict(text=label, xref="paper", yref="paper", x=xp(lab_x), y=yp(lab_y), xanchor="center", yanchor="middle", showarrow=False,
                            font=dict(size=28, family=FONT, color="black")))


add_bar("9", "21", 52.2, 829.4, 736, 762, [-10.5, 0], -10, 0, 2, 0.5, -10.5, -10, "#FACCFA",
        "Maximum difference accessible FAC vs total FAC (m)", 459, 833)
add_bar("10", "22", 52, 832, 1514, 1540, [-100, -47.4], -100, -50, 10, 2, -47.4, -50, "#011959",
        "Maximum difference accessible FAC vs total FAC (%)", 422, 1610)

fig.update_layout(template="none", width=W, height=H, margin=dict(l=0, r=0, t=0, b=0, autoexpand=False), paper_bgcolor="white", plot_bgcolor="rgba(0,0,0,0)",
                  showlegend=False, annotations=annotations, shapes=shapes, font=dict(family=FONT), **layout)

fig.write_html("out.html")
